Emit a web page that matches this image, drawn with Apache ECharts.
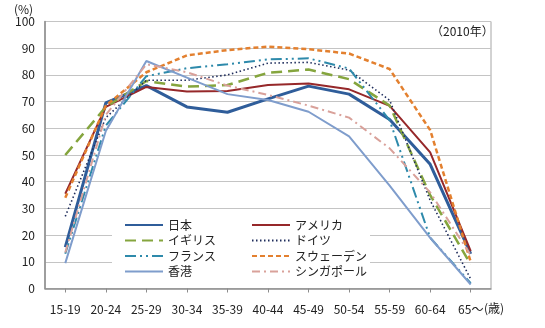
<!DOCTYPE html>
<html>
<head>
<meta charset="utf-8">
<script src="https://cdn.jsdelivr.net/npm/echarts@6/dist/echarts.min.js"></script>
<style>
html,body{margin:0;padding:0;background:#fff;}
#c{width:545px;height:328px;}
</style>
</head>
<body>
<div id="c"></div>
<script>
var categories = ['15-19','20-24','25-29','30-34','35-39','40-44','45-49','50-54','55-59','60-64','65～'];
var japan     = [15.5, 69.5, 76.0, 68.0, 66.0, 71.0, 75.8, 72.8, 63.3, 46.5, 13.0];
var usa       = [35.5, 68.0, 75.5, 73.8, 74.0, 76.2, 76.8, 74.6, 68.4, 51.0, 14.0];
var uk        = [50.0, 68.0, 77.7, 75.6, 76.2, 80.8, 82.0, 78.4, 68.5, 35.0, 9.0];
var germany   = [27.0, 64.0, 78.0, 78.0, 80.0, 84.4, 84.7, 81.8, 70.5, 33.0, 3.5];
var france    = [13.0, 61.0, 79.5, 82.5, 84.0, 85.8, 86.2, 82.4, 63.0, 19.0, 2.0];
var sweden    = [34.0, 68.5, 81.0, 87.3, 89.3, 90.6, 89.6, 88.0, 82.2, 59.3, 10.0];
var hongkong  = [9.5, 59.0, 85.2, 79.0, 72.8, 70.6, 66.2, 57.0, 38.5, 19.0, 1.5];
var singapore = [13.5, 65.0, 84.0, 81.0, 76.0, 72.5, 68.5, 64.0, 52.5, 36.0, 12.5];
var yTicks = {min: 0, max: 100, interval: 10};

var FONT = '"Noto Sans CJK JP", "Noto Sans", sans-serif';
function mk(name, data, color, width, dash) {
  return {
    name: name, type: 'line', data: data, symbol: 'none', smooth: false,
    lineStyle: {color: color, width: width, type: dash || 'solid', cap: 'butt'},
    itemStyle: {color: color},
    emphasis: {disabled: true}, animation: false, z: 2
  };
}
var legendCommon = {
  orient: 'vertical', top: 219, itemWidth: 38, itemHeight: 12, itemGap: 3.5,
  textStyle: {fontSize: 12, color: '#222', fontFamily: FONT},
  itemStyle: {color: 'rgba(0,0,0,0)', borderColor: 'rgba(0,0,0,0)', borderWidth: 0},
  padding: 0, selectedMode: false
};
var chart = echarts.init(document.getElementById('c'), null, {renderer: 'canvas'});
chart.setOption({
  animation: false,
  backgroundColor: '#fff',
  textStyle: {fontFamily: FONT},
  grid: {left: 45, right: 54, top: 21.5, bottom: 39.5, show: true, borderColor: '#a6a6a6', borderWidth: 1, containLabel: false},
  xAxis: {
    type: 'category', data: categories, boundaryGap: true,
    axisLine: {lineStyle: {color: '#8c8c8c', width: 1.5}},
    axisTick: {show: true, alignWithLabel: true, length: 4, lineStyle: {color: '#8c8c8c'}},
    axisLabel: {color: '#222', fontSize: 12, margin: 15, fontFamily: FONT, interval: 0},
    splitLine: {show: false}
  },
  yAxis: {
    type: 'value', min: yTicks.min, max: yTicks.max, interval: yTicks.interval,
    axisLine: {show: true, lineStyle: {color: '#8c8c8c', width: 1.5}},
    axisTick: {show: false},
    axisLabel: {color: '#222', fontSize: 12, margin: 10, fontFamily: FONT},
    splitLine: {show: true, lineStyle: {color: '#c4c4c4', width: 1}}
  },
  legend: [
    Object.assign({}, legendCommon, {data: ['日本', 'イギリス', 'フランス', '香港'], left: 124}),
    Object.assign({}, legendCommon, {data: ['アメリカ', 'ドイツ', 'スウェーデン', 'シンガポール'], left: 251})
  ],
  graphic: [
    {type: 'rect', left: 112, top: 215, shape: {width: 258, height: 66}, style: {fill: '#fff'}, z: 1, silent: true},
    {type: 'text', left: 14, top: 3, style: {text: '(%)', fill: '#222', font: '12px ' + FONT}, z: 5},
    {type: 'text', left: 431, top: 25, style: {text: '（2010年）', fill: '#222', font: '12px ' + FONT}, z: 5},
    {type: 'text', left: 484, top: 302, style: {text: '(歳)', fill: '#222', font: '12px ' + FONT}, z: 5}
  ],
  series: [
    mk('日本', japan, '#2f5d9a', 3),
    mk('アメリカ', usa, '#96282a', 2),
    mk('イギリス', uk, '#85a53e', 2.5, [11, 6]),
    mk('ドイツ', germany, '#1f2d5c', 1.6, [1.5, 2.5]),
    mk('フランス', france, '#2e8aab', 2, [11, 4, 2, 4, 2, 4]),
    mk('スウェーデン', sweden, '#e3802f', 2.5, [5, 3]),
    mk('香港', hongkong, '#7f9dcc', 2),
    mk('シンガポール', singapore, '#d9a19a', 2, [8, 4, 2, 4])
  ]
});
</script>
</body>
</html>
